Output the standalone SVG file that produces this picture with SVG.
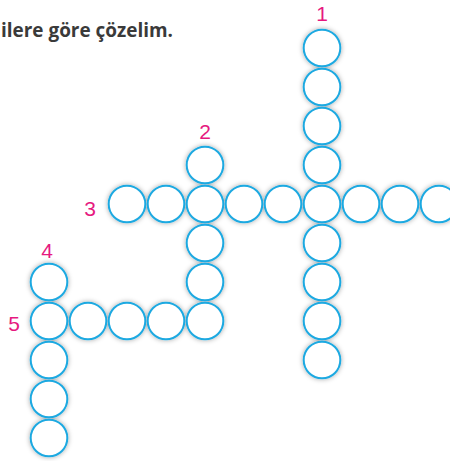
<svg xmlns="http://www.w3.org/2000/svg" width="450" height="461" viewBox="0 0 450 461">
  <defs>
    <filter id="sh" x="-20%" y="-20%" width="140%" height="140%">
      <feDropShadow dx="0" dy="0" stdDeviation="2.5" flood-color="#000" flood-opacity="0.35"/>
    </filter>
  </defs>
  <style>
    .c { fill: #fff; stroke: #1ea9e1; stroke-width: 2; }
    .num { font-family: "Liberation Sans", "DejaVu Sans", sans-serif; font-size: 21px; fill: #e6197f; text-anchor: middle; }
    .title { font-family: "Open Sans", "Liberation Sans", sans-serif; font-weight: bold; font-size: 20px; fill: #3a3a3a; }
  </style>
  <rect width="450" height="461" fill="#fff"/>
  <text class="title" x="1" y="37" textLength="172" lengthAdjust="spacingAndGlyphs">ilere göre çözelim.</text>

  <g id="labels">
    <text class="num" x="322" y="21">1</text>
    <text class="num" x="205" y="139">2</text>
    <text class="num" x="90" y="216">3</text>
    <text class="num" x="47" y="258">4</text>
    <text class="num" x="14" y="331">5</text>
  </g>

  <g id="connectors"/>

  <g id="grid" filter="url(#sh)">
    <!-- word 1: vertical, x=322 -->
    <g id="n1-1"><circle class="c" cx="322" cy="48" r="18.3"/></g>
    <g id="n1-2"><circle class="c" cx="322" cy="87" r="18.3"/></g>
    <g id="n1-3"><circle class="c" cx="322" cy="126" r="18.3"/></g>
    <g id="n1-4"><circle class="c" cx="322" cy="165" r="18.3"/></g>
    <g id="n1-6"><circle class="c" cx="322" cy="243" r="18.3"/></g>
    <g id="n1-7"><circle class="c" cx="322" cy="282" r="18.3"/></g>
    <g id="n1-8"><circle class="c" cx="322" cy="321" r="18.3"/></g>
    <g id="n1-9"><circle class="c" cx="322" cy="360" r="18.3"/></g>
    <!-- word 2: vertical, x=205 -->
    <g id="n2-1"><circle class="c" cx="205" cy="165" r="18.3"/></g>
    <g id="n2-3"><circle class="c" cx="205" cy="243" r="18.3"/></g>
    <g id="n2-4"><circle class="c" cx="205" cy="282" r="18.3"/></g>
    <!-- word 3: horizontal, y=204 -->
    <g id="n3-1"><circle class="c" cx="127" cy="204" r="18.3"/></g>
    <g id="n3-2"><circle class="c" cx="166" cy="204" r="18.3"/></g>
    <g id="n3-3"><circle class="c" cx="205" cy="204" r="18.3"/></g>
    <g id="n3-4"><circle class="c" cx="244" cy="204" r="18.3"/></g>
    <g id="n3-5"><circle class="c" cx="283" cy="204" r="18.3"/></g>
    <g id="n3-6"><circle class="c" cx="322" cy="204" r="18.3"/></g>
    <g id="n3-7"><circle class="c" cx="361" cy="204" r="18.3"/></g>
    <g id="n3-8"><circle class="c" cx="400" cy="204" r="18.3"/></g>
    <g id="n3-9"><circle class="c" cx="439" cy="204" r="18.3"/></g>
    <!-- word 4: vertical, x=49 -->
    <g id="n4-1"><circle class="c" cx="49" cy="282" r="18.3"/></g>
    <g id="n4-3"><circle class="c" cx="49" cy="360" r="18.3"/></g>
    <g id="n4-4"><circle class="c" cx="49" cy="399" r="18.3"/></g>
    <g id="n4-5"><circle class="c" cx="49" cy="438" r="18.3"/></g>
    <!-- word 5: horizontal, y=321 -->
    <g id="n5-1"><circle class="c" cx="49" cy="321" r="18.3"/></g>
    <g id="n5-2"><circle class="c" cx="88" cy="321" r="18.3"/></g>
    <g id="n5-3"><circle class="c" cx="127" cy="321" r="18.3"/></g>
    <g id="n5-4"><circle class="c" cx="166" cy="321" r="18.3"/></g>
    <g id="n5-5"><circle class="c" cx="205" cy="321" r="18.3"/></g>
  </g>
</svg>
